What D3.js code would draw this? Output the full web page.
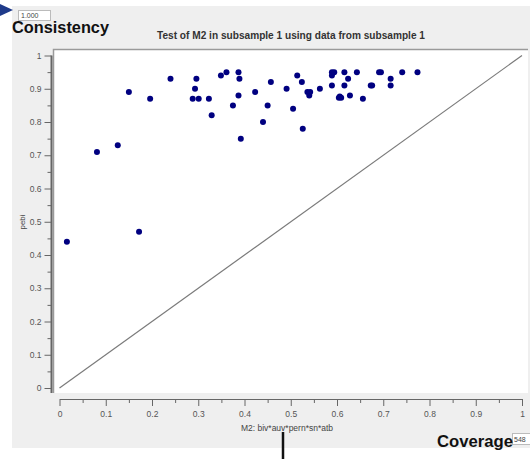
<!DOCTYPE html>
<html>
<head>
<meta charset="utf-8">
<script src="https://cdn.jsdelivr.net/npm/d3@7"></script>
<style>
  body { margin: 0; background: #fff; }
  svg { display: block; font-family: "Liberation Sans", Arial, sans-serif; }
</style>
</head>
<body>
<svg></svg>
<script>
// coverage (x) en consistency (y) per case
let coverage = [0.016, 0.081, 0.126, 0.15, 0.172, 0.196, 0.240, 0.296, 0.293, 0.288,
  0.301, 0.323, 0.329, 0.349, 0.361, 0.387, 0.389, 0.387, 0.375, 0.392,
  0.423, 0.450, 0.440, 0.457, 0.491, 0.514, 0.524, 0.505, 0.526, 0.536,
  0.542, 0.540, 0.563, 0.589, 0.594, 0.589, 0.589, 0.604, 0.609, 0.606,
  0.616, 0.643, 0.691, 0.695, 0.741, 0.774, 0.624, 0.716, 0.616, 0.673,
  0.676, 0.716, 0.628, 0.656]
let consistency = [0.44, 0.71, 0.73, 0.89, 0.47, 0.87, 0.93, 0.93, 0.90, 0.87,
  0.87, 0.87, 0.82, 0.94, 0.95, 0.95, 0.93, 0.88, 0.85, 0.75,
  0.89, 0.85, 0.80, 0.92, 0.90, 0.94, 0.92, 0.84, 0.78, 0.89,
  0.89, 0.88, 0.90, 0.95, 0.95, 0.94, 0.91, 0.873, 0.873, 0.877,
  0.95, 0.95, 0.95, 0.95, 0.95, 0.95, 0.93, 0.93, 0.91, 0.91,
  0.91, 0.91, 0.88, 0.87]

let majorTicks = [0, 0.1, 0.2, 0.3, 0.4, 0.5, 0.6, 0.7, 0.8, 0.9, 1]
let minorTicks = [0.05, 0.15, 0.25, 0.35, 0.45, 0.55, 0.65, 0.75, 0.85, 0.95]

let title = "Test of M2 in subsample 1 using data from subsample 1"
let xTitle = "M2: biv*auv*pern*sn*atb"
let yTitle = "pebi"

let points = coverage.map((c, i) => ({ x: c, y: consistency[i] }))

let width = 530
let height = 459

let svg = d3.select("svg").attr("width", width).attr("height", height)

let xScale = d3.scaleLinear().domain([0, 1]).range([59.5, 522])
let yScale = d3.scaleLinear().domain([0, 1]).range([388, 55.5])

// achtergrond paneel en plotvlak
svg.append("rect")
  .attr("x", 12).attr("y", 6).attr("width", 518).attr("height", 442)
  .attr("fill", "#efefef")

svg.append("rect")
  .attr("x", 53).attr("y", 49).attr("width", 475).attr("height", 344)
  .attr("fill", "#fff")
svg.append("path")
  .attr("d", "M53.5,393 V49.5 H528")
  .attr("fill", "none").attr("stroke", "#9a9a9a").attr("stroke-width", 1.5)

svg.append("text")
  .attr("x", 291).attr("y", 39)
  .attr("text-anchor", "middle")
  .attr("textLength", 268).attr("lengthAdjust", "spacingAndGlyphs")
  .style("font-size", "10px").style("font-weight", "bold").style("fill", "#333")
  .text(title)

// assen
let xAxis = d3.axisBottom(xScale).tickValues(majorTicks).tickSize(7).tickSizeOuter(0)
  .tickFormat(d3.format("~g")).tickPadding(5)
let xMinor = d3.axisBottom(xScale).tickValues(minorTicks).tickSize(4).tickSizeOuter(0)
  .tickFormat("")

let gx = svg.append("g").attr("transform", "translate(0,399)").call(xAxis)
svg.append("g").attr("transform", "translate(0,399)").call(xMinor)
  .select(".domain").remove()

let yAxis = d3.axisLeft(yScale).tickValues(majorTicks).tickSize(7).tickSizeOuter(0)
  .tickFormat(d3.format("~g")).tickPadding(3)
let yMinor = d3.axisLeft(yScale).tickValues(minorTicks).tickSize(4).tickSizeOuter(0)
  .tickFormat("")

let gy = svg.append("g").attr("transform", "translate(51.5,0)").call(yAxis)
svg.append("g").attr("transform", "translate(51.5,0)").call(yMinor)
  .select(".domain").remove()
gy.select(".domain").attr("d", "M0," + yScale(1) + "V393")
  .attr("stroke-width", 2)

svg.selectAll(".tick line, .domain").attr("stroke", "#666")
svg.selectAll(".tick text").style("font-size", "8.5px").style("fill", "#555")
  .style("font-family", "Liberation Sans, Arial, sans-serif")

svg.append("text")
  .attr("x", 287).attr("y", 431)
  .attr("text-anchor", "middle")
  .style("font-size", "8.5px").style("fill", "#444")
  .text(xTitle)

svg.append("text")
  .attr("transform", "translate(25,222) rotate(-90)")
  .attr("text-anchor", "middle")
  .style("font-size", "8px").style("fill", "#444")
  .text(yTitle)

// diagonaal en punten
svg.append("line")
  .attr("x1", xScale(0)).attr("y1", yScale(0))
  .attr("x2", xScale(1)).attr("y2", yScale(1))
  .attr("stroke", "#7a7a7a").attr("stroke-width", 1.2)

svg.selectAll("circle.dot")
  .data(points)
  .enter()
  .append("circle")
  .attr("class", "dot")
  .attr("r", 3)
  .attr("cx", (d) => xScale(d.x))
  .attr("cy", (d) => yScale(d.y))
  .attr("fill", "#000080")

// annotaties bovenop
svg.append("polygon")
  .attr("points", "0,4 13,10 0,16")
  .attr("fill", "#1f3a8a")

svg.append("rect")
  .attr("x", 18.5).attr("y", 10.5).attr("width", 32).attr("height", 10)
  .attr("fill", "#fff").attr("stroke", "#bbb")
svg.append("text")
  .attr("x", 21).attr("y", 17.5)
  .style("font-size", "7px").style("fill", "#444")
  .text("1.000")

svg.append("text")
  .attr("x", 12).attr("y", 33)
  .attr("textLength", 97).attr("lengthAdjust", "spacingAndGlyphs")
  .style("font-size", "17px").style("font-weight", "bold").style("fill", "#111")
  .text("Consistency")

svg.append("rect")
  .attr("x", 512.5).attr("y", 433.5).attr("width", 18).attr("height", 11)
  .attr("fill", "#fff").attr("stroke", "#bbb")
svg.append("text")
  .attr("x", 514).attr("y", 442)
  .style("font-size", "7px").style("fill", "#444")
  .text("548")

svg.append("text")
  .attr("x", 437).attr("y", 447)
  .attr("textLength", 76).attr("lengthAdjust", "spacingAndGlyphs")
  .style("font-size", "17px").style("font-weight", "bold").style("fill", "#111")
  .text("Coverage")

svg.append("line")
  .attr("x1", 283).attr("y1", 432).attr("x2", 283).attr("y2", 459)
  .attr("stroke", "#111").attr("stroke-width", 2.5)
</script>
</body>
</html>
